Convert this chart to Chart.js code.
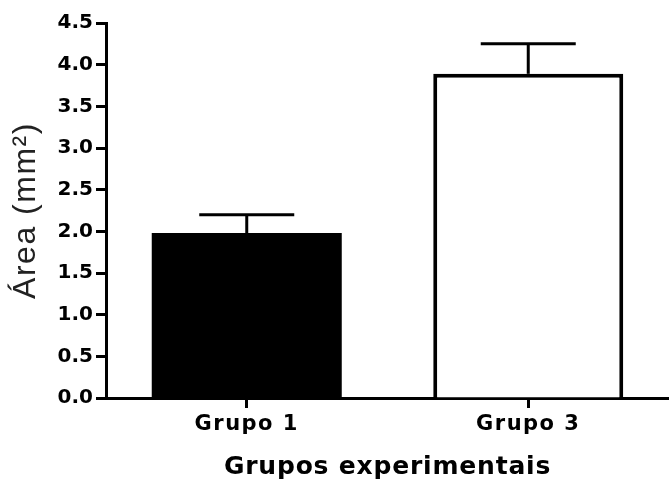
<!DOCTYPE html>
<html>
<head>
<meta charset="utf-8">
<script src="https://cdn.jsdelivr.net/npm/chart.js@4/dist/chart.umd.min.js"></script>
<style>
  html, body { margin: 0; padding: 0; background: #ffffff; }
  canvas { display: block; }
</style>
</head>
<body>
<canvas id="chart" width="669" height="486"></canvas>
<script>
// Mean area per experimental group, with the upper error (SD) drawn above each bar
const categories = ['Grupo 1', 'Grupo 3'];
const means = [1.98, 3.89];
const errors = [0.22, 0.36];
const yTickValues = [0, 0.5, 1.0, 1.5, 2.0, 2.5, 3.0, 3.5, 4.0, 4.5];
const barFills = ['#000000', '#ffffff'];
const barBorders = [0, 4];

// Upper-only error bars with a cap half as wide as the bar
const errorBarPlugin = {
  id: 'errorBars',
  afterDatasetsDraw(chart) {
    const meta = chart.getDatasetMeta(0);
    const yScale = chart.scales.y;
    const ctx = chart.ctx;
    ctx.save();
    ctx.strokeStyle = '#000000';
    ctx.lineCap = 'butt';
    meta.data.forEach((bar, i) => {
      const x = bar.x;
      const yMean = yScale.getPixelForValue(means[i]);
      const yTop = yScale.getPixelForValue(means[i] + errors[i]);
      const half = bar.width / 4;
      ctx.lineWidth = 3;
      ctx.beginPath();
      ctx.moveTo(x, yMean);
      ctx.lineTo(x, yTop);
      ctx.stroke();
      ctx.beginPath();
      ctx.moveTo(x - half, yTop);
      ctx.lineTo(x + half, yTop);
      ctx.stroke();
    });
    ctx.restore();
  }
};

// Slightly wider letter spacing for the axis texts
function spaced(fn, spacing) {
  return function (...args) {
    const c = this.ctx;
    const prev = c.letterSpacing;
    c.letterSpacing = spacing;
    try { return fn.apply(this, args); } finally { c.letterSpacing = prev; }
  };
}
const spacingPlugin = {
  id: 'axisSpacing',
  beforeDraw(chart) {
    const { x, y } = chart.scales;
    if (!x._spaced) {
      x.drawLabels = spaced(x.drawLabels, '1.5px');
      x.drawTitle = spaced(x.drawTitle, '0.8px');
      x._spaced = true;
    }
    if (!y._spaced) {
      y.drawTitle = spaced(y.drawTitle, '1.5px');
      y._spaced = true;
    }
  }
};

const boldFont = (size) => ({ family: '"DejaVu Sans", sans-serif', weight: 'bold', size: size });

new Chart(document.getElementById('chart'), {
  type: 'bar',
  data: {
    labels: categories,
    datasets: [{
      data: means,
      backgroundColor: barFills,
      borderColor: '#000000',
      borderWidth: barBorders,
      borderSkipped: 'bottom',
      barPercentage: 0.675,
      categoryPercentage: 1.0
    }]
  },
  options: {
    responsive: false,
    animation: false,
    devicePixelRatio: 1,
    layout: { padding: { top: 23, right: -3, bottom: 0, left: 0 } },
    plugins: {
      legend: { display: false },
      tooltip: { enabled: false }
    },
    scales: {
      x: {
        offset: true,
        grid: {
          display: true,
          offset: false,
          drawOnChartArea: false,
          drawTicks: true,
          tickLength: 10,
          tickWidth: 3,
          tickColor: '#000000'
        },
        border: { display: true, color: '#000000', width: 3 },
        ticks: { color: '#000000', font: boldFont(21), padding: 4 },
        title: {
          display: true,
          text: 'Grupos experimentais',
          color: '#000000',
          font: boldFont(25),
          padding: { top: 0, bottom: 4 }
        },
        afterFit(scale) { scale.height = 88; }
      },
      y: {
        min: 0,
        max: 4.5,
        afterBuildTicks(scale) { scale.ticks = yTickValues.map(v => ({ value: v })); },
        ticks: {
          color: '#000000',
          font: boldFont(20),
          padding: 3,
          callback: (v) => Number(v).toFixed(1)
        },
        grid: {
          display: true,
          drawOnChartArea: false,
          drawTicks: true,
          tickLength: 10,
          tickWidth: 3,
          tickColor: '#000000'
        },
        border: { display: true, color: '#000000', width: 3 },
        title: {
          display: true,
          text: 'Área (mm²)',
          color: '#222222',
          font: { family: '"Liberation Sans", Arial, sans-serif', weight: 'normal', size: 32 },
          padding: { top: 7, bottom: 0 }
        },
        afterFit(scale) { scale.width = 106; }
      }
    }
  },
  plugins: [errorBarPlugin, spacingPlugin]
});
</script>
</body>
</html>
